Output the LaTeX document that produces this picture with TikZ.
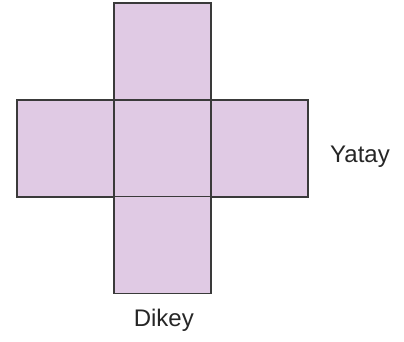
\documentclass[tikz,border=0pt]{standalone}
\usepackage{fontspec}
\setmainfont{Liberation Sans}
\definecolor{facefill}{HTML}{E0CAE4}
\definecolor{edgecol}{HTML}{3A3A3A}
\begin{document}
\begin{tikzpicture}[x=1pt,y=-1pt,
  face/.style={draw=edgecol,fill=facefill,line width=1.5pt,minimum size=97pt,inner sep=0pt,outer sep=0pt},
  lbl/.style={font=\fontsize{24}{28}\selectfont,text=black!85,inner sep=0pt,anchor=base}]
\useasboundingbox (0,0) rectangle (404,341);
\node[face] (top) at (162.5,51.5) {};
\node[face] (left) at (65.5,148.5) {};
\node[face] (center) at (162.5,148.5) {};
\node[face] (right) at (259.5,148.5) {};
\node[face] (bottom) at (162.5,245) {};
\node[lbl] (yatay) at (360,162.7) {Yatay};
\node[lbl] (dikey) at (163.8,326.7) {Dikey};
\end{tikzpicture}
\end{document}
